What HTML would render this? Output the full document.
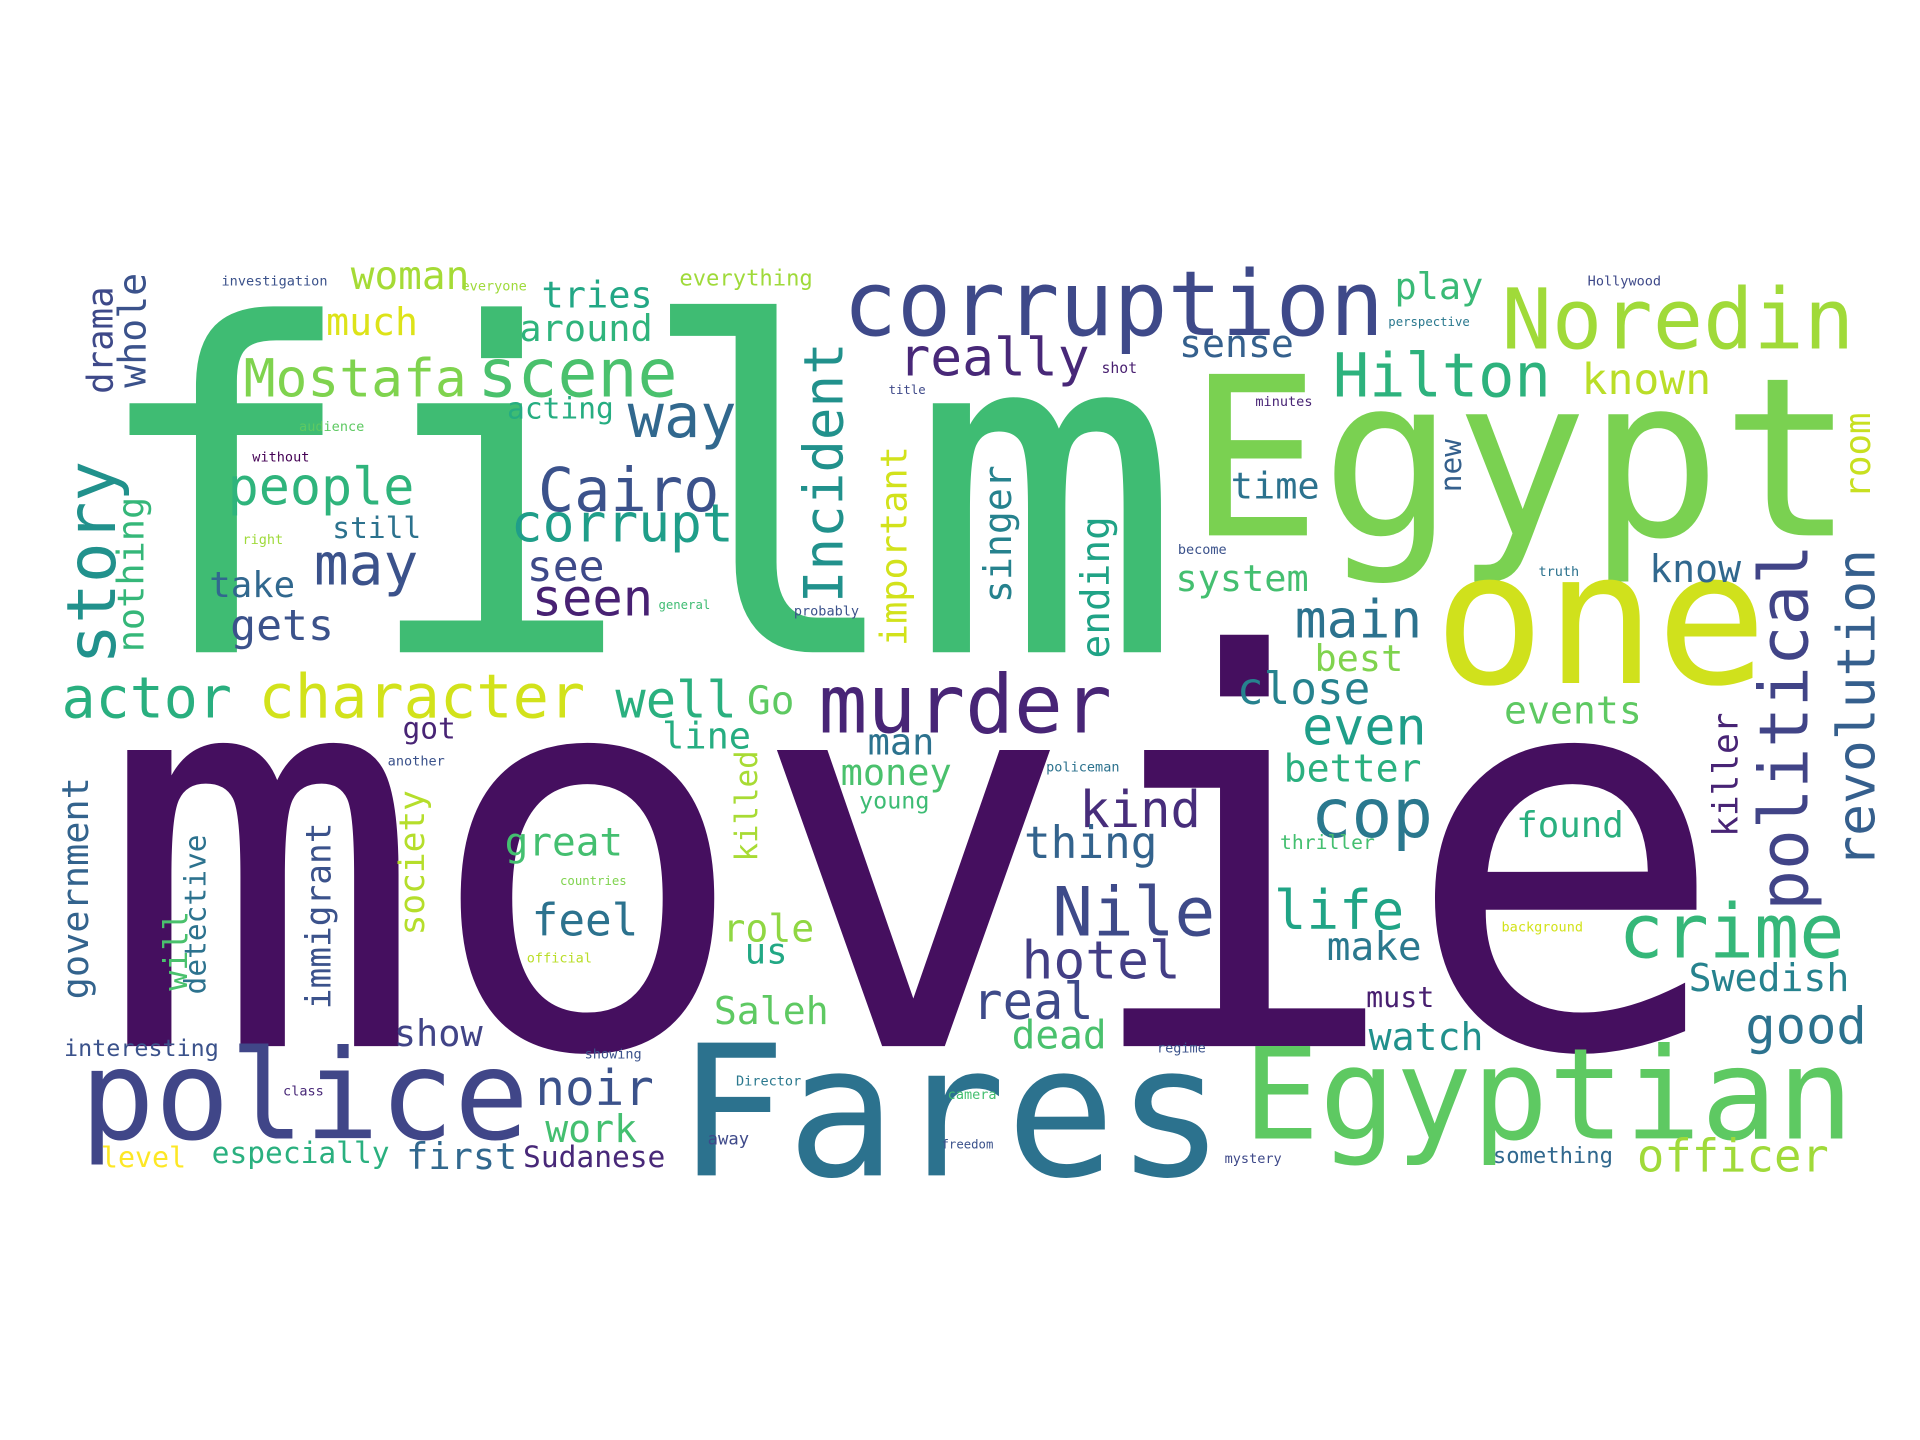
<!DOCTYPE html>
<html><head><meta charset="utf-8">
<style>
html,body{margin:0;padding:0;background:#fff;width:1920px;height:1440px;overflow:hidden}
svg{display:block}
text{font-family:"DejaVu Sans Mono","Liberation Mono",monospace}
</style></head>
<body>
<svg id="cloud" width="1920" height="1440" viewBox="0 0 1560 1170" xmlns="http://www.w3.org/2000/svg">
<rect width="1560" height="1170" fill="#fff"/>
<g id="words"></g>
</svg>
<script>
const words = ["film","movie","Egypt","one","Fares","Egyptian","police","corruption","Noredin","murder","crime","Nile","cop","Cairo","Mostafa","scene","Hilton","story","political","revolution","actor","character","well","Go","Incident","really","way","tries","woman","around","much","everything","play","sense","known","drama","whole","people","acting","may","still","corrupt","see","seen","take","gets","nothing","time","new","important","singer","ending","system","main","know","best","room","close","even","events","line","got","man","better","kind","killer","money","young","found","great","thing","killed","society","government","immigrant","will","detective","feel","role","us","life","hotel","make","real","Swedish","must","Saleh","dead","show","good","watch","interesting","noir","work","first","Sudanese","especially","level","officer","something","away","investigation","Hollywood","everyone","perspective","audience","without","shot","title","right","general","probably","minutes","become","truth","policeman","another","thriller","background","official","countries","regime","mystery","freedom","Director","showing","class","camera"];
const sizes = [370,440,180,150,148,103,101,73,68,66,61,55,55,49,43,54,49,55,55,43,46,49,41,32,44,43,49,30,32,30,31,18,30,31,35,29,31,42,24,47,24,43,35,41,29,35,30,30,24,30,31,32,30,43,31,30,29,36,42,31,30,24,30,31,41,28,30,19,29,32,36,25,28,30,28,27,24,36,31,29,44,43,32,41,31,23,31,32,30,41,31,19,40,31,30,24,24,23,37,18,14,11,11,11,10,11,11,12,10,11,10,11,11,11,11,11,11,16,11,11,10,11,11,10,11,11,11,11,11];
const colors = ["#3fbc73","#450f5f","#7ad151","#d0e11c","#2c728e","#5ec962","#404688","#3e4989","#a0da39","#482576","#35b779","#3e4a89","#2a788e","#3b528b","#7fd34e","#4ac16d","#2db27d","#21918c","#414487","#355f8d","#29af7f","#d2e21b","#2ab07f","#5ec962","#21918c","#482878","#31688e","#22a785","#a5db36","#2fb47c","#dde318","#9fda3a","#3aba76","#35608d","#bade28","#3e4989","#3b528b","#2fb47c","#26ad81","#3b528b","#2c728e","#1f9e89","#3e4a89","#482173","#31688e","#3b528b","#35b779","#2c728e","#35608d","#d2e21b","#26828e","#20a386","#44bf70","#2c728e","#31688e","#7fd34e","#c8e020","#26828e","#1f9e89","#5ec962","#26ad81","#482475","#2c728e","#2ab07f","#472d7b","#482475","#4ac16d","#3dbc74","#2ab07f","#44bf70","#33638d","#a8db34","#b5de2b","#33638d","#3b528b","#4ac16d","#2c728e","#2c728e","#90d743","#22a884","#20a486","#433e85","#2a788e","#3e4a89","#26828e","#481f70","#5ec962","#4ac16d","#414487","#2c728e","#21918c","#3b528b","#3b528b","#44bf70","#31688e","#482878","#2ab07f","#fde725","#a0da39","#31688e","#3e4989","#3b528b","#3e4989","#9fda3a","#2a788e","#5ec962","#440154","#481f70","#3e4989","#9fda3a","#3fbc73","#3b528b","#482475","#3b528b","#2c728e","#2c728e","#3b528b","#44bf70","#d2e21b","#bade28","#7fd34e","#3b528b","#3e4989","#3b528b","#2a788e","#3b528b","#482878","#44bf70","#d2e21b"];
// layout: [x, y, orientation] horizontal: left x, baseline y; vertical: right x, bottom y
const layout = [[70,530,"h"],[80,850,"h"],[965,435,"h"],[1165,555,"h"],[550,955,"h"],[1010,925,"h"],[65,925,"h"],[685,272,"h"],[1220,283,"h"],[665,595,"h"],[1315,778,"h"],[855,760,"h"],[1065,680,"h"],[437,415,"h"],[198,322,"h"],[388,322,"h"],[1083,322,"h"],[100,540,"v"],[1475,740,"v"],[1528,705,"v"],[50,583,"h"],[210,583,"h"],[500,583,"h"],[607,580,"h"],[690,490,"v"],[730,305,"h"],[510,355,"h"],[440,250,"h"],[285,235,"h"],[422,277,"h"],[265,272,"h"],[552,232,"h"],[1133,243,"h"],[958,290,"h"],[1285,320,"h"],[95,320,"v"],[122,315,"v"],[185,410,"h"],[412,340,"h"],[255,475,"h"],[270,437,"h"],[415,440,"h"],[428,472,"h"],[432,500,"h"],[170,485,"h"],[187,520,"h"],[120,530,"v"],[1000,405,"h"],[1190,400,"v"],[740,525,"v"],[825,490,"v"],[905,535,"v"],[955,480,"h"],[1052,518,"h"],[1340,473,"h"],[1068,545,"h"],[1523,405,"v"],[1005,572,"h"],[1058,605,"h"],[1222,588,"h"],[538,608,"h"],[327,600,"h"],[705,613,"h"],[1043,635,"h"],[877,672,"h"],[1415,680,"v"],[683,638,"h"],[698,657,"h"],[1232,680,"h"],[410,695,"h"],[832,697,"h"],[618,700,"v"],[348,760,"v"],[75,812,"v"],[272,820,"v"],[155,805,"v"],[170,808,"v"],[432,760,"h"],[587,765,"h"],[605,783,"h"],[1035,755,"h"],[830,795,"h"],[1078,780,"h"],[790,828,"h"],[1372,805,"h"],[1110,818,"h"],[580,832,"h"],[822,852,"h"],[320,850,"h"],[1418,848,"h"],[1112,853,"h"],[52,858,"h"],[435,898,"h"],[443,928,"h"],[330,950,"h"],[425,948,"h"],[172,945,"h"],[82,948,"h"],[1330,952,"h"],[1213,945,"h"],[575,930,"h"],[180,232,"h"],[1290,232,"h"],[375,236,"h"],[1128,265,"h"],[243,350,"h"],[205,375,"h"],[895,303,"h"],[722,320,"h"],[197,442,"h"],[535,495,"h"],[645,500,"h"],[1020,330,"h"],[957,450,"h"],[1250,468,"h"],[850,627,"h"],[315,622,"h"],[1040,690,"h"],[1220,757,"h"],[428,782,"h"],[455,719,"h"],[940,855,"h"],[995,945,"h"],[765,933,"h"],[598,882,"h"],[475,860,"h"],[230,890,"h"],[770,893,"h"]];
const g = document.getElementById('words');
const NS = "http://www.w3.org/2000/svg";
for (let i = 0; i < words.length && i < layout.length; i++) {
  const s = sizes[i];
  const [x, y, o] = layout[i];
  const t = document.createElementNS(NS, 'text');
  t.textContent = words[i];
  t.setAttribute('font-size', s);
  t.setAttribute('fill', colors[i] || '#3b528b');
  t.setAttribute('textLength', (words[i].length * 0.602 * s).toFixed(1));
  t.setAttribute('lengthAdjust', 'spacingAndGlyphs');
  if (o === 'v') {
    const bx = x - 0.12 * s;
    t.setAttribute('transform', 'translate(' + bx + ',' + y + ') rotate(-90)');
  } else {
    t.setAttribute('x', x);
    t.setAttribute('y', y);
  }
  
  
  g.appendChild(t);
}
</script>
</body></html>
